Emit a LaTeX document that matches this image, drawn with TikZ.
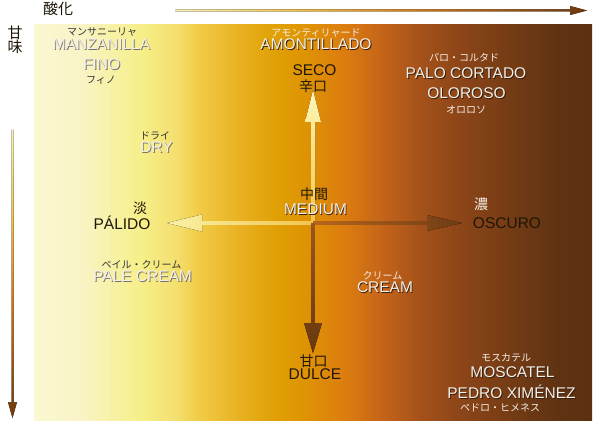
\documentclass[tikz,border=0pt]{standalone}
\usepackage{fontspec}
\setmainfont{Liberation Sans}
\newfontfamily\jp{Noto Sans CJK JP}
\usetikzlibrary{calc}

\definecolor{b0}{HTML}{FAF7D2}
\definecolor{b1}{HTML}{F9F4C6}
\definecolor{b2}{HTML}{F6EF8A}
\definecolor{b3}{HTML}{F4E070}
\definecolor{b4}{HTML}{F1CA45}
\definecolor{b5}{HTML}{E8B020}
\definecolor{b6}{HTML}{E0A005}
\definecolor{b7}{HTML}{DE9304}
\definecolor{b8}{HTML}{DC7C10}
\definecolor{b9}{HTML}{C2621A}
\definecolor{b10}{HTML}{A4521A}
\definecolor{b11}{HTML}{8C4518}
\definecolor{b12}{HTML}{703A14}
\definecolor{b13}{HTML}{5F3212}
\definecolor{b14}{HTML}{5C3010}

\definecolor{ax0}{HTML}{FAF2B8}
\definecolor{ax1}{HTML}{F0C040}
\definecolor{ax2}{HTML}{D07818}
\definecolor{ax3}{HTML}{6A3810}

\definecolor{upT}{HTML}{FFF8B8}
\definecolor{upB}{HTML}{F2C648}
\definecolor{lfL}{HTML}{FAF2A8}
\definecolor{lfR}{HTML}{F2C450}
\definecolor{rtL}{HTML}{B8661E}
\definecolor{rtR}{HTML}{6E3C14}
\definecolor{dnT}{HTML}{9A561C}
\definecolor{dnB}{HTML}{66380F}

\definecolor{hiW}{HTML}{F2EFEA}
\definecolor{shL}{HTML}{7A7468}
\definecolor{shD}{HTML}{3A200A}
\definecolor{kanaDark}{HTML}{333333}
\definecolor{kanaLight}{HTML}{F5EEE5}
\definecolor{inkDark}{HTML}{1E1608}

\pgfdeclarehorizontalshading{sherrybg}{100bp}{
 color(0bp)=(b0); color(25bp)=(b0); color(29.1bp)=(b1); color(34.5bp)=(b2);
 color(37.6bp)=(b3); color(39.9bp)=(b4); color(43.5bp)=(b5); color(46.6bp)=(b6);
 color(49.3bp)=(b7); color(52.9bp)=(b8); color(56.5bp)=(b9); color(59.6bp)=(b10);
 color(63.2bp)=(b11); color(68.5bp)=(b12); color(72.1bp)=(b13); color(75bp)=(b14);
 color(100bp)=(b14)}
\pgfdeclarehorizontalshading{axisH}{100bp}{
 color(0bp)=(ax0); color(25bp)=(ax0); color(40bp)=(ax1); color(55bp)=(ax2);
 color(75bp)=(ax3); color(100bp)=(ax3)}
\pgfdeclareverticalshading{axisV}{100bp}{
 color(0bp)=(ax3); color(25bp)=(ax3); color(45bp)=(ax2); color(60bp)=(ax1);
 color(75bp)=(ax0); color(100bp)=(ax0)}

\newcommand{\shd}[2][shL]{\leavevmode\rlap{\kern0.9pt\raisebox{-0.9pt}{\textcolor{#1}{#2}}}\textcolor{hiW}{#2}}

\tikzset{
  lab/.style={inner sep=0pt, font=\fontsize{15.5}{17}\selectfont},
  kana/.style={inner sep=0pt, font=\jp\fontsize{10}{11}\selectfont},
  kanji/.style={inner sep=0pt, font=\jp\fontsize{14}{15}\selectfont},
  axislab/.style={inner sep=0pt, font=\jp\fontsize{15}{15}\selectfont, text=inkDark},
}

\begin{document}
\begin{tikzpicture}[x=1pt,y=-1pt]
\useasboundingbox (0,0) rectangle (600,425);
\fill[white] (0,0) rectangle (600,425);

% background panel
\fill[shading=sherrybg] (34,25) rectangle (592,420);

% axis labels
\node[axislab] (sanka) at (58,9) {酸化};
\node[axislab, align=center] (amami) at (15,40) {甘\\[-1pt]味};

% axis arrows
\coordinate (t1) at (175,10.5);
\coordinate (t2) at (587,10.5);
\fill[shading=axisH] ($(t1)+(0,-1)$) -- ($(t2)+(-17,-1)$) -- ($(t2)+(-17,-4.5)$) -- (t2)
   -- ($(t2)+(-17,4.5)$) -- ($(t2)+(-17,1)$) -- ($(t1)+(0,1)$) -- cycle;
\coordinate (v1) at (12.5,130);
\coordinate (v2) at (12.5,418);
\fill[shading=axisV] ($(v1)+(-1,0)$) -- ($(v2)+(-1,-16)$) -- ($(v2)+(-4.5,-16)$) -- (v2)
   -- ($(v2)+(4.5,-16)$) -- ($(v2)+(1,-16)$) -- ($(v1)+(1,0)$) -- cycle;

% centre arrows
\coordinate (c) at (313,223);
\coordinate (u) at (313,90);
\coordinate (l) at (167,223);
\coordinate (r) at (462,223);
\coordinate (d) at (313,353);
\fill[top color=upT, bottom color=upB] ($(c)+(-2,0)$) -- ($(u)+(-2,32)$) -- ($(u)+(-8,32)$) -- (u)
   -- ($(u)+(8,32)$) -- ($(u)+(2,32)$) -- ($(c)+(2,0)$) -- cycle;
\fill[left color=lfL, right color=lfR] ($(c)+(0,-1.8)$) -- ($(l)+(35,-1.8)$) -- ($(l)+(35,-8.5)$) -- (l)
   -- ($(l)+(35,8.5)$) -- ($(l)+(35,1.8)$) -- ($(c)+(0,1.8)$) -- cycle;
\fill[left color=rtL, right color=rtR] ($(c)+(0,-1.8)$) -- ($(r)+(-35,-1.8)$) -- ($(r)+(-35,-8)$) -- (r)
   -- ($(r)+(-35,8)$) -- ($(r)+(-35,1.8)$) -- ($(c)+(0,1.8)$) -- cycle;
\fill[top color=dnT, bottom color=dnB] ($(c)+(-1.8,0)$) -- ($(d)+(-1.8,-30)$) -- ($(d)+(-9,-30)$) -- (d)
   -- ($(d)+(9,-30)$) -- ($(d)+(1.8,-30)$) -- ($(c)+(1.8,0)$) -- cycle;

% left column
\node[kana, text=kanaDark] (manzk) at (102,32.5) {マンサニーリャ};
\node[lab] (manz) at (101.5,45) {\shd{MANZANILLA}};
\node[lab] (fino) at (101.7,65) {\shd{FINO}};
\node[kana, text=kanaDark] (finok) at (101,80) {フィノ};
\node[kana, text=kanaDark] (dryk) at (155,135.5) {ドライ};
\node[lab] (dry) at (156.5,148) {\shd{DRY}};
\node[kanji, text=inkDark] (tan) at (140,208) {淡};
\node[lab, text=inkDark] (palido) at (122,222.5) {PÁLIDO};
\node[kana, text=kanaDark] (pck) at (141.5,264.5) {ペイル・クリーム};
\node[lab] (pc) at (142.5,276.5) {\shd{PALE CREAM}};

% centre column
\node[kana, text=kanaLight] (amok) at (316,33) {アモンティリャード};
\node[lab] (amo) at (316,45) {\shd[shD]{AMONTILLADO}};
\node[lab, text=inkDark] (seco) at (314.5,70) {SECO};
\node[kanji, text=inkDark] (karak) at (313,86) {辛口};
\node[kanji, text=inkDark] (chukan) at (314,194) {中間};
\node[lab] (medium) at (315.5,210) {\shd[shD]{MEDIUM}};
\node[kanji, text=inkDark] (amak) at (313.5,361) {甘口};
\node[lab, text=inkDark] (dulce) at (315,374) {DULCE};

% right column
\node[kana, text=kanaLight] (pak) at (464,58) {パロ・コルタド};
\node[lab] (pa) at (466,74) {\shd[shD]{PALO CORTADO}};
\node[lab] (olo) at (466.5,94) {\shd[shD]{OLOROSO}};
\node[kana, text=kanaLight] (olok) at (466,110) {オロロソ};
\node[kanji, text=kanaLight] (no) at (481,204) {濃};
\node[lab, text=inkDark] (oscuro) at (507,223) {OSCURO};
\node[kana, text=kanaLight] (crk) at (382.5,276) {クリーム};
\node[lab] (cr) at (385,288) {\shd[shD]{CREAM}};
\node[kana, text=kanaLight] (mok) at (506,358) {モスカテル};
\node[lab] (mo) at (512.5,372.5) {\shd[shD]{MOSCATEL}};
\node[lab] (px) at (511.5,392) {\shd[shD]{PEDRO XIMÉNEZ}};
\node[kana, text=kanaLight] (pxk) at (500,407.5) {ペドロ・ヒメネス};
\end{tikzpicture}
\end{document}
